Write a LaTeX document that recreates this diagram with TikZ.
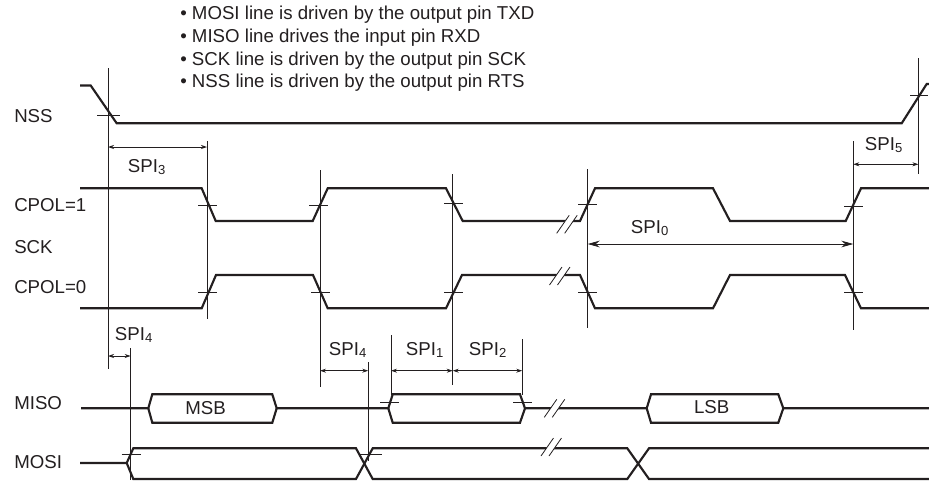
\documentclass[tikz,border=0pt]{standalone}
\usepackage{fontspec}
\setmainfont{Liberation Sans}
\usetikzlibrary{arrows.meta}
\definecolor{ink}{HTML}{231F20}
\tikzset{
  wave/.style={ink,line width=1.6pt,line join=miter},
  guide/.style={ink,line width=0.6pt},
  tick/.style={ink,line width=0.6pt},
  dimen/.style={ink,line width=0.6pt,{Stealth[length=4.5pt,width=3pt]}-{Stealth[length=4.5pt,width=3pt]}},
  dimenbig/.style={ink,line width=0.6pt,{Stealth[length=9pt,width=5pt]}-{Stealth[length=9pt,width=5pt]}},
  lbl/.style={font=\fontsize{14pt}{16pt}\selectfont,text=ink,inner sep=0pt},
}
\begin{document}
\begin{tikzpicture}[x=0.75pt,y=-0.75pt]
  \useasboundingbox (0,0) rectangle (929,482);
  % notes
  \foreach \y/\txt in {15/MOSI line is driven by the output pin TXD,38/MISO line drives the input pin RXD,61/SCK line is driven by the output pin SCK,83/NSS line is driven by the output pin RTS}{
    \node[lbl,anchor=west] at (180,\y) {• \txt};}
  % signal names
  \foreach \y/\nm/\txt in {116/nNSS/NSS,205/nCone/CPOL=1,247/nSCK/SCK,287/nCzero/CPOL=0,403/nMISO/MISO,462/nMOSI/MOSI}{
    \node[lbl,anchor=west] (\nm) at (14,\y) {\txt};}
  % guide lines
  \foreach \x/\a/\b in {108/68/369,207/141/319,320/170/387,452.7/174/385,587.7/169/328,853.3/141/330,918.4/58/174,130.7/348/480,368.3/362/461,391/335/395,522.3/339/395}{
    \draw[guide] (\x,\a) -- (\x,\b);}
  % waveforms
  \draw[wave] (80,85.5) -- (90.7,85.5) -- (116.7,123.3) -- (901.7,123.3) -- (926.7,84) -- (929,84);
  \draw[wave] (80,188.3) -- (201.7,188.3) -- (215.7,221) -- (312.7,221) -- (327.7,188.3) -- (446,188.3)
    -- (462.7,221) -- (580,221) -- (595,188.3) -- (713,188.3) -- (730,221) -- (845.7,221) -- (861,188.3) -- (929,188.3);
  \draw[wave] (80,308.3) -- (201.7,308.3) -- (216,275) -- (313,275) -- (327.7,308.3) -- (446,308.3)
    -- (462,275) -- (580,275) -- (595,308.3) -- (713,308.3) -- (730,275) -- (845,275) -- (861,308.3) -- (929,308.3);
  % MISO
  \draw[wave] (81,408.3) -- (148.3,408.3) -- (152.3,394.3) -- (272.3,394.3) -- (276.7,408.3) -- (388.3,408.3)
    -- (392.7,394.3) -- (520,394.3) -- (525,408.3) -- (646.7,408.3) -- (651,394.3) -- (778.3,394.3) -- (783.3,408.3) -- (929,408.3);
  \draw[wave] (148.3,408.3) -- (152.3,422.7) -- (272.3,422.7) -- (276.7,408.3);
  \draw[wave] (388.3,408.3) -- (392.7,422.7) -- (520,422.7) -- (525,408.3);
  \draw[wave] (646.7,408.3) -- (651,422.7) -- (778.3,422.7) -- (783.3,408.3);
  % MOSI
  \draw[wave] (80,463) -- (126.7,463) -- (133.3,448.3) -- (356,448.3) -- (372.7,479) -- (627.3,479) -- (649,448.3) -- (929,448.3);
  \draw[wave] (126.7,463) -- (133.3,479) -- (356,479) -- (372.7,448.3) -- (627.3,448.3) -- (649,479) -- (929,479);
  % breaks
  \foreach \bx/\by in {556.7/233.3,549.5/285,544.3/417.3,541/456}{
    \fill[white] (\bx,\by) -- ++(12.5,-18) -- ++(8,0) -- ++(-12.5,18) -- cycle;
    \draw[tick] (\bx,\by) -- ++(12.5,-18);
    \draw[tick] (\bx+8,\by) -- ++(12.5,-18);}
  % crossing ticks
  \foreach \a/\b/\y in {97/120/115,198/217/205,309/328/205,444/463/203.5,578/597/204,844/863/206,910/928/95,
    198/217/292.7,311/330/292.7,444/463/292.7,578/597/292.7,844/863/292,
    380/399.3/402.3,513/532/402,121.7/140.7/454.3,360/381.7/454}{
    \draw[tick] (\a,\y) -- (\b,\y);}
  % timing arrows
  \foreach \a/\b/\y in {108/207/147,853.3/918.4/164.3,108/130.7/356,320/368.3/370.7,391/452.7/370.7,452.7/522.3/370.7}{
    \draw[dimen] (\a,\y) -- (\b,\y);}
  \draw[dimenbig] (587.7,244) -- (853.3,244);
  % timing labels
  \foreach \x/\y/\nm/\n in {147/167/sThree/3,884/145/sFive/5,134/335/sFourA/4,348/350/sFourB/4,425/350/sOne/1,488/350/sTwo/2,650/228/sZero/0}{
    \node[lbl] (\nm) at (\x,\y) {SPI\textsubscript{\n}};}
  \node[lbl] (nMSB) at (205.5,408) {MSB};
  \node[lbl] (nLSB) at (711.7,407) {LSB};
\end{tikzpicture}
\end{document}
